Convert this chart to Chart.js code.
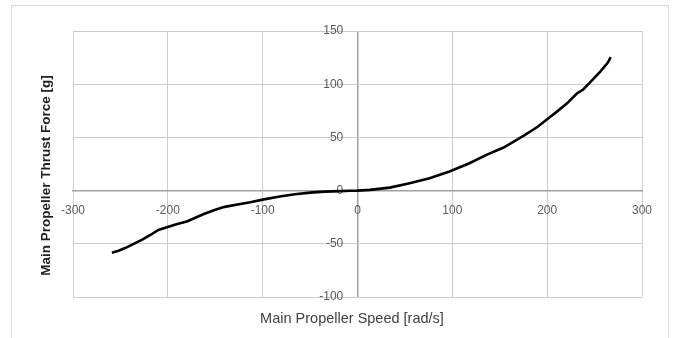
<!DOCTYPE html>
<html>
<head>
<meta charset="utf-8">
<script src="https://cdn.jsdelivr.net/npm/chart.js@4"></script>
<style>
  html, body { margin: 0; padding: 0; background: #fff; }
  #wrap { width: 675px; height: 338px; }
</style>
</head>
<body>
<div id="wrap"><canvas id="thrustChart" width="675" height="338"></canvas></div>
<script>
const speed  = [-259, -252, -245, -236, -227, -218, -210, -201, -190, -180, -171, -162, -150, -140, -125, -113, -100, -82, -66, -50, -35, -18, -8, 0, 13, 34, 55, 76, 97, 118, 136, 154, 175, 190, 200, 210, 221, 231, 238, 245, 256, 264, 267];
const thrust = [-58.3, -56.5, -54, -50, -46, -41.5, -37, -34.4, -31.5, -29, -25.5, -22, -18, -15.3, -12.8, -11, -8.5, -5.6, -3.5, -1.9, -1, -0.5, -0.2, 0, 0.7, 2.8, 7, 11.6, 17.9, 25.7, 33.6, 40.5, 51.5, 60, 67, 74, 82, 91, 95, 101.5, 111.8, 120.3, 125.4];

const xTitle = "Main Propeller Speed [rad/s]";
const yTitle = "Main Propeller Thrust Force [g]";

const FONT = "'Liberation Sans', Arial, sans-serif";
const GRID = "#cccccc";
const AXIS = "#a0a0a0";

// frame + axis titles drawn by hand, axes sit on zero so titles can't use scale.title
const decorPlugin = {
  id: "decor",
  beforeDraw(chart) {
    const ctx = chart.ctx;
    ctx.save();
    ctx.strokeStyle = "#d9d9d9";
    ctx.lineWidth = 1;
    ctx.strokeRect(11.5, 5.5, 657, 400);
    ctx.restore();
  },
  afterDraw(chart) {
    const ctx = chart.ctx;
    const area = chart.chartArea;
    ctx.save();
    ctx.fillStyle = "#404040";
    ctx.font = "14.5px " + FONT;
    ctx.textAlign = "center";
    ctx.textBaseline = "middle";
    ctx.fillText(xTitle, 352, 319);

    ctx.translate(46, 175.5);
    ctx.rotate(-Math.PI / 2);
    ctx.fillStyle = "#202020";
    ctx.font = "bold 13.5px " + FONT;
    ctx.fillText(yTitle, 0, 0);
    ctx.restore();
  }
};

const ctx = document.getElementById("thrustChart").getContext("2d");
const thrustChart = new Chart(ctx, {
  type: "scatter",
  data: {
    datasets: [{
      data: speed.map((s, i) => ({ x: s, y: thrust[i] })),
      showLine: true,
      borderColor: "#000",
      borderWidth: 2.6,
      pointRadius: 0,
      tension: 0
    }]
  },
  options: {
    responsive: false,
    animation: false,
    layout: { padding: { left: 73, right: 33, top: 31, bottom: 41 } },
    plugins: { legend: { display: false }, tooltip: { enabled: false } },
    scales: {
      x: {
        type: "linear",
        position: { y: 0 },
        min: -300, max: 300,
        ticks: { stepSize: 100, color: "#595959", font: { size: 12, family: FONT }, padding: 13, maxRotation: 0 },
        // vertical line at 0 doubles as the y axis line
        grid: {
          color: c => c.tick && c.tick.value === 0 ? AXIS : GRID,
          lineWidth: c => c.tick && c.tick.value === 0 ? 1.5 : 1,
          drawTicks: false
        },
        border: { color: AXIS, width: 1.5 }
      },
      y: {
        type: "linear",
        // labels sit a little left of the zero line
        position: { x: -15 },
        min: -100, max: 150,
        ticks: { stepSize: 50, color: "#595959", font: { size: 12, family: FONT } },
        grid: { color: GRID, lineWidth: 1, drawTicks: false },
        border: { display: false }
      }
    }
  },
  plugins: [decorPlugin]
});
</script>
</body>
</html>
